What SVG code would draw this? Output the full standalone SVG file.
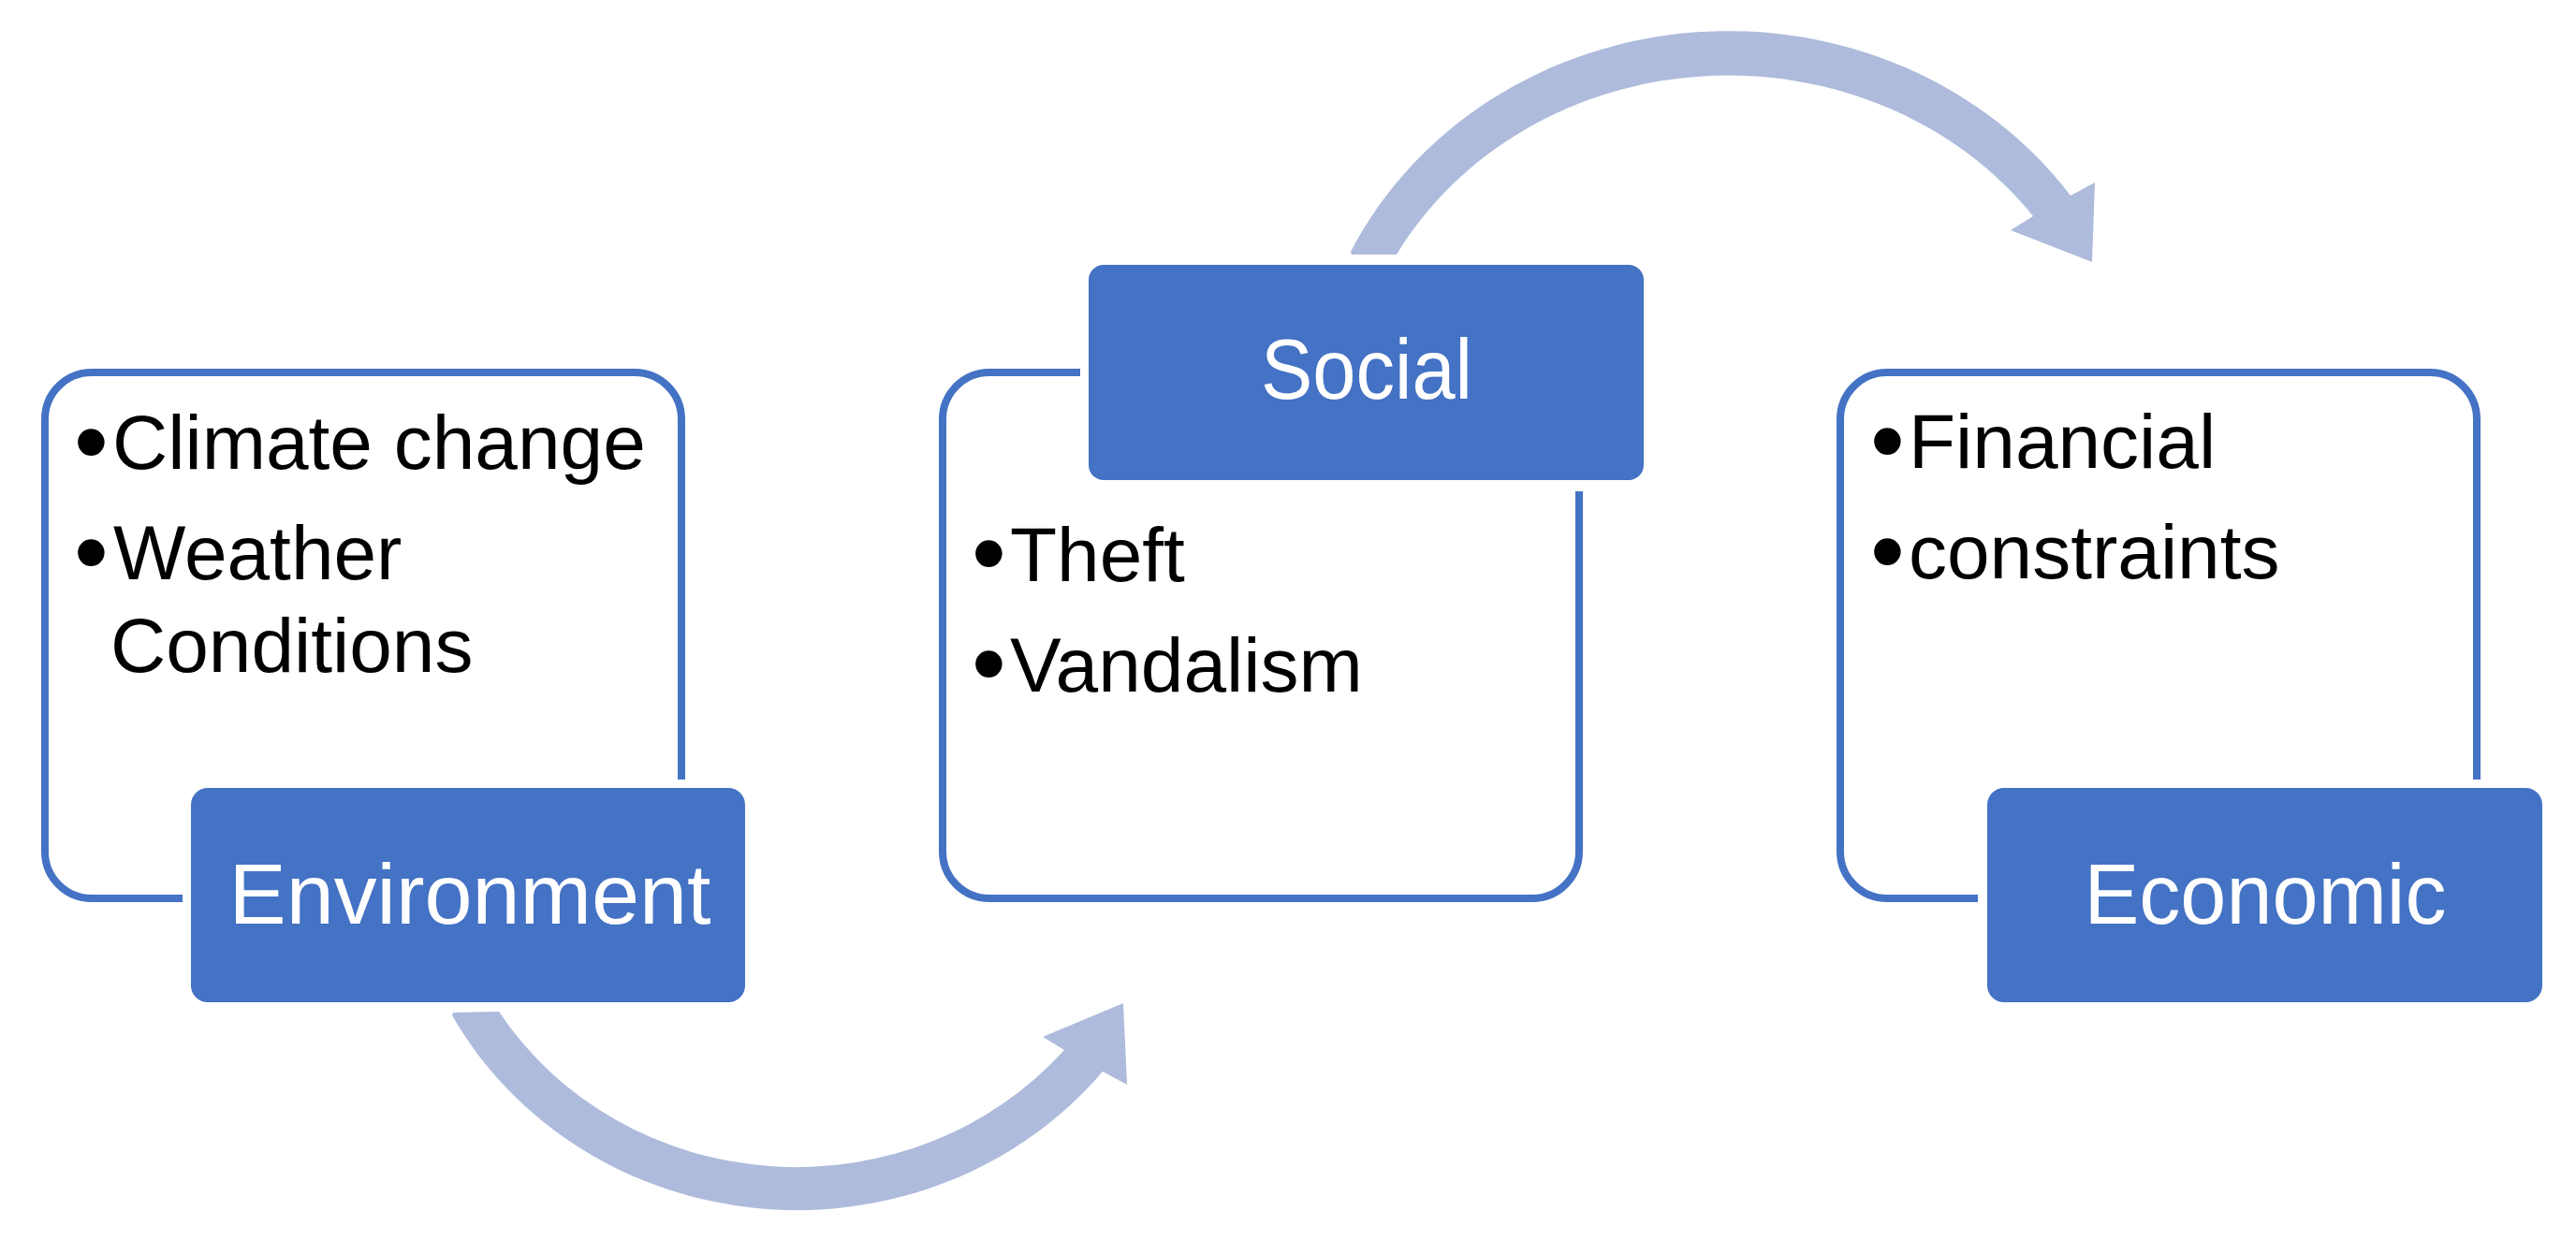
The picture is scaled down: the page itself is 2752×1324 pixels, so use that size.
<svg xmlns="http://www.w3.org/2000/svg" width="2752" height="1324" viewBox="0 0 2752 1324">
  <style>
    .frame { fill: none; stroke: #4472C4; stroke-width: 8; }
    .head { fill: #4472C4; }
    .label { font-family: "Liberation Sans", Arial, sans-serif; font-size: 90px; fill: #FFFFFF; text-anchor: middle; }
    .item { font-family: "Liberation Sans", Arial, sans-serif; font-size: 82px; fill: #000000; }
    .bullet { font-family: "Liberation Sans", Arial, sans-serif; font-size: 105px; fill: #000000; }
    .arrow { fill: #AEBBDC; }
  </style>
  <rect width="2752" height="1324" fill="#FFFFFF"/>

  <g id="connectors">
    <path class="arrow" d="M533,1081 L484,1082 L483,1085 A419,397 0 0 0 1178,1145 L1204,1159 L1200,1072 L1114,1108 L1137,1122 A375,354 0 0 1 533,1081 Z"/>
    <path class="arrow" d="M1492,272 L1444,272 L1443,269 A448,417 0 0 1 2212,209 L2238,195 L2235,280 L2148,246 L2172,231 A405,371 0 0 0 1492,272 Z"/>
  </g>

  <g id="environment">
    <path class="frame" d="M195,960 L98,960 A50,50 0 0 1 48,910 L48,448 A50,50 0 0 1 98,398 L678,398 A50,50 0 0 1 728,448 L728,833"/>
    <text class="bullet" x="79" y="508">•</text>
    <text class="item" x="120" y="501">Climate change</text>
    <text class="bullet" x="79" y="626">•</text>
    <text class="item" x="121" y="619">Weather</text>
    <text class="item" x="118" y="718">Conditions</text>
    <rect class="head" x="204" y="842" width="592" height="229" rx="18" ry="18"/>
    <text class="label" x="502" y="987" textLength="515" lengthAdjust="spacingAndGlyphs">Environment</text>
  </g>

  <g id="social">
    <path class="frame" d="M1154,398 L1057,398 A50,50 0 0 0 1007,448 L1007,910 A50,50 0 0 0 1057,960 L1637,960 A50,50 0 0 0 1687,910 L1687,525"/>
    <rect class="head" x="1163" y="283" width="593" height="230" rx="16" ry="16"/>
    <text class="label" x="1460" y="426" textLength="226" lengthAdjust="spacingAndGlyphs">Social</text>
    <text class="bullet" x="1038" y="627">•</text>
    <text class="item" x="1079" y="621">Theft</text>
    <text class="bullet" x="1038" y="745">•</text>
    <text class="item" x="1079" y="739">Vandalism</text>
  </g>

  <g id="economic">
    <path class="frame" d="M2113,960 L2016,960 A50,50 0 0 1 1966,910 L1966,448 A50,50 0 0 1 2016,398 L2596,398 A50,50 0 0 1 2646,448 L2646,833"/>
    <text class="bullet" x="1998" y="507">•</text>
    <text class="item" x="2039" y="500">Financial</text>
    <text class="bullet" x="1998" y="625">•</text>
    <text class="item" x="2039" y="618">constraints</text>
    <rect class="head" x="2123" y="842" width="593" height="229" rx="18" ry="18"/>
    <text class="label" x="2420" y="987" textLength="387" lengthAdjust="spacingAndGlyphs">Economic</text>
  </g>
</svg>
